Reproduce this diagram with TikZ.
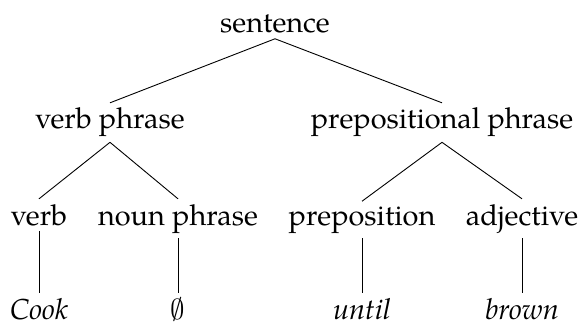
\RequirePackage{fix-cm}
\documentclass[tikz,border=0pt]{standalone}
\usepackage{fontspec}
\setmainfont{TeX Gyre Pagella}
\begin{document}
\begin{tikzpicture}[x=1pt,y=-1pt,
  lab/.style={anchor=base,inner xsep=0pt,inner ysep=5pt,font=\fontsize{28.9}{34}\selectfont},
  edge/.style={line width=0.9pt}]
\useasboundingbox (0,0) rectangle (580,323);
\node[lab] (s) at (275,33) {sentence};
\node[lab] (vp) at (110,129) {verb phrase};
\node[lab] (pp) at (442,129) {prepositional phrase};
\node[lab] (v) at (39,225) {verb};
\node[lab] (np) at (178,225) {noun phrase};
\node[lab] (p) at (362,225) {preposition};
\node[lab] (a) at (522,225) {adjective};
\node[lab] (w1) at (39,319) {\itshape Cook};
\node[lab] (w2) at (178,319) {$\emptyset$};
\node[lab] (w3) at (362,319) {\itshape until};
\node[lab] (w4) at (522,319) {\itshape brown};
\draw[edge] (s.south) -- (vp.north);
\draw[edge] (s.south) -- (pp.north);
\draw[edge] (vp.south) -- (v.north);
\draw[edge] (vp.south) -- (np.north);
\draw[edge] (pp.south) -- (p.north);
\draw[edge] (pp.south) -- (a.north);
\draw[edge] (v.south) -- (w1.north);
\draw[edge] (np.south) -- (w2.north |- w1.north);
\draw[edge] (p.south) -- (w3.north);
\draw[edge] (a.south) -- (w4.north);
\end{tikzpicture}
\end{document}
